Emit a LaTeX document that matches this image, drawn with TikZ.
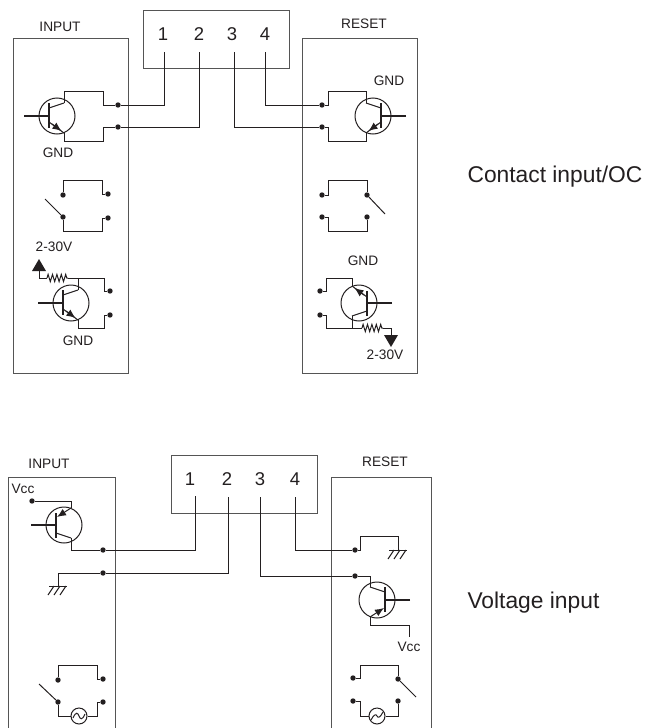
\documentclass[tikz,border=0pt]{standalone}
\usepackage{fontspec}
\setmainfont{Liberation Sans}
\usetikzlibrary{arrows.meta,decorations.pathmorphing}
\definecolor{boxline}{RGB}{85,85,85}
\definecolor{inkline}{RGB}{35,31,32}
\newcommand{\bjtbody}{
  \draw[wire] (0,0) circle (18);
  \draw[inkline,line width=2.2pt] (-33,0) -- (-8,0);
  \draw[inkline,line width=2pt] (-8,-13) -- (-8,12);
  \draw[wire] (-8,-8) -- (7,-13);
  \coordinate (-up) at (7,-13);
  \coordinate (-low) at (7,17);
}
\tikzset{
  panel/.style={draw=boxline,line width=1pt},
  wire/.style={draw=inkline,line width=1pt},
  pindot/.style={circle,fill=inkline,inner sep=0pt,minimum size=5.4pt},
  small/.style={text=inkline,font=\fontsize{13.7}{15}\selectfont},
  pinnum/.style={text=inkline,font=\fontsize{18.5}{20}\selectfont},
  caption/.style={text=inkline,font=\fontsize{22.8}{26}\selectfont,anchor=west},
  resist/.style={decoration={zigzag,segment length=4.4pt,amplitude=3.6pt}},
  bjtout/.pic={
    \bjtbody
    \draw[wire] (-8,6) -- (7,17);
    \draw[wire,-{Latex[length=9pt,width=7.5pt]}] (-5,8) -- (4.5,15);
  },
  bjtin/.pic={
    \bjtbody
    \draw[wire,-{Latex[length=9pt,width=7.5pt]}] (7,17) -- (-7,8);
  },
  earth/.pic={
    \draw[wire] (-9,0) -- (9,0);
    \draw[wire] (-4,0) -- (-10,9);
    \draw[wire] (2,0) -- (-4,9);
    \draw[wire] (8,0) -- (2,9);
  },
}
\begin{document}
\begin{tikzpicture}[x=1pt,y=-1pt]
\useasboundingbox (0,0) rectangle (650,728);

% Contact input: panels and terminal block
\draw[panel] (13,38) rectangle (128,373);
\draw[panel] (302,38) rectangle (417,373);
\draw[panel] (143,10) rectangle (289,68);
\node[small] (inlabel) at (60,27) {INPUT};
\node[small] (reslabel) at (364,24) {RESET};
\node[caption] (captop) at (464,177) {Contact input/OC};

\node[pinnum] (one) at (163,34) {1};
\node[pinnum] (two) at (199,34) {2};
\node[pinnum] (three) at (232,34) {3};
\node[pinnum] (four) at (265,34) {4};
\coordinate (pinone) at (164,52);
\coordinate (pintwo) at (199,52);
\coordinate (pinthree) at (234,52);
\coordinate (pinfour) at (265,52);

% Left transistor
\pic (qa) at (57,116) {bjtout};
\node[pindot] (da) at (118,105) {};
\node[pindot] (db) at (118,127) {};
\node[small] (gnda) at (58,153) {GND};
\draw[wire] (pinone) |- (da);
\draw[wire] (pintwo) |- (db);
\draw[wire] (da) -- (103,105) -- (103,91) -| (qa-up);
\draw[wire] (db) -- (103,127) -- (103,141) -| (qa-low);

% Left switch
\node[pindot] (dc) at (63,195) {};
\node[pindot] (dd) at (63,217) {};
\node[pindot] (de) at (108,194) {};
\node[pindot] (df) at (108,218) {};
\coordinate (arma) at (45,199);
\draw[wire] (dc) -- (63,180) -- (102,180) -- (102,194) -- (de);
\draw[wire] (dd) -- (63,231) -- (102,231) -- (102,218) -- (df);
\draw[wire] (arma) -- (dd);

% Left pull-up transistor
\node[small] (volta) at (54,247) {2-30V};
\coordinate (triga) at (39,271);
\fill[inkline] (39,259) -- (46,271) -- (32,271) -- cycle;
\pic (qb) at (71,303) {bjtout};
\node[pindot] (dg) at (110,291) {};
\node[pindot] (dh) at (110,315) {};
\node[small] (gndb) at (78,341) {GND};
\draw[wire] (triga) |- (47,278);
\draw[wire,resist,decorate] (47,278) -- (68,278);
\draw[wire] (68,278) -- (104,278) -- (104,291) -- (dg);
\draw[wire] (78,278) -- (qb-up);
\draw[wire] (dh) -- (104,315) -- (104,328) -| (qb-low);

% Right transistor
\pic[xscale=-1] (qc) at (373,116) {bjtout};
\node[pindot] (di) at (322,105) {};
\node[pindot] (dj) at (322,127) {};
\node[small] (gndc) at (389,81) {GND};
\draw[wire] (pinfour) |- (di);
\draw[wire] (pinthree) |- (dj);
\draw[wire] (di) -- (328,105) -- (328,91) -| (qc-up);
\draw[wire] (dj) -- (328,127) -- (328,141) -| (qc-low);

% Right switch
\node[pindot] (dk) at (322,195) {};
\node[pindot] (dl) at (322,217) {};
\node[pindot] (dm) at (367,195) {};
\node[pindot] (dn) at (367,217) {};
\coordinate (armb) at (385,214);
\draw[wire] (dk) -- (328,195) -- (328,180) -| (dm);
\draw[wire] (dl) -- (328,217) -- (328,231) -| (dn);
\draw[wire] (dm) -- (armb);

% Right pull-up transistor
\node[small] (gndd) at (363,261) {GND};
\pic[xscale=-1,yscale=-1] (qd) at (359,303) {bjtout};
\node[pindot] (dp) at (320,291) {};
\node[pindot] (dq) at (320,315) {};
\node[small] (voltb) at (385,355) {2-30V};
\coordinate (trigb) at (391,335);
\fill[inkline] (384,335) -- (398,335) -- (391,347) -- cycle;
\draw[wire] (dp) -- (326,291) -- (326,278) -| (qd-low);
\draw[wire] (dq) -- (326,315) -- (326,328) -| (qd-up);
\draw[wire] (352,328) -- (362,328);
\draw[wire,resist,decorate] (362,328) -- (383,328);
\draw[wire] (383,328) -| (trigb);

% Voltage input: panels and terminal block
\draw[panel] (8,728) |- (115,477) -- (115,728);
\draw[panel] (331,728) |- (431,477) -- (431,728);
\draw[panel] (171,455) rectangle (317,513);
\node[small] (inlabelb) at (49,464) {INPUT};
\node[small] (reslabelb) at (385,462) {RESET};
\node[caption] (capbot) at (464,603) {Voltage input};

\node[pinnum] (oneb) at (190,479) {1};
\node[pinnum] (twob) at (227,479) {2};
\node[pinnum] (threeb) at (260,479) {3};
\node[pinnum] (fourb) at (295,479) {4};
\coordinate (pinoneb) at (195,496);
\coordinate (pintwob) at (228,497);
\coordinate (pinthreeb) at (260,497);
\coordinate (pinfourb) at (295,497);

% Left side, Vcc transistor and ground
\node[small] (vcca) at (23,489) {Vcc};
\node[pindot] (ea) at (32,501) {};
\pic[yscale=-1] (qe) at (64,525) {bjtin};
\node[pindot] (eb) at (103,550) {};
\node[pindot] (ec) at (103,573) {};
\coordinate (earthl) at (58,586);
\pic at (earthl) {earth};
\draw[wire] (ea) -| (qe-low);
\draw[wire] (qe-up) |- (eb);
\draw[wire] (eb) -- (195,550) -- (pinoneb);
\draw[wire] (pintwob) |- (ec);
\draw[wire] (ec) -| (earthl);

% Left side, switch with source
\node[pindot] (ed) at (58,680) {};
\node[pindot] (ee) at (58,702) {};
\node[pindot] (ef) at (103,679) {};
\node[pindot] (eg) at (103,702) {};
\node[circle,draw=inkline,line width=1pt,inner sep=0pt,minimum size=16pt] (srca) at (79,716) {};
\coordinate (armc) at (39,684);
\draw[wire] (ed) -- (58,665) -- (97,665) -- (97,679) -- (ef);
\draw[wire] (armc) -- (ee);
\draw[wire] (ee) |- (srca);
\draw[wire] (srca) -- (97,716) -- (97,702) -- (eg);
\draw[wire] (73,718) .. controls (76,711) and (78,713) .. (79,716) .. controls (80,719) and (82,721) .. (85,714);

% Right side, ground and Vcc transistor
\node[pindot] (eh) at (355,550) {};
\node[pindot] (ei) at (355,576) {};
\coordinate (earthr) at (398,550);
\pic at (earthr) {earth};
\pic[xscale=-1] (qf) at (377,600) {bjtin};
\node[small] (vccb) at (409,647) {Vcc};
\coordinate (vcctop) at (409,637);
\draw[wire] (pinfourb) |- (eh);
\draw[wire] (pinthreeb) |- (ei);
\draw[wire] (eh) -- (360,550) -- (360,536) -| (earthr);
\draw[wire] (ei) -| (qf-up);
\draw[wire] (qf-low) |- (vcctop |- 0,625) -- (vcctop);

% Right side, switch with source
\node[pindot] (ej) at (353,678) {};
\node[pindot] (ek) at (353,701) {};
\node[pindot] (em) at (398,679) {};
\node[pindot] (en) at (398,701) {};
\node[circle,draw=inkline,line width=1pt,inner sep=0pt,minimum size=16pt] (srcb) at (377,716) {};
\coordinate (armd) at (416,697);
\draw[wire] (ej) -- (360,678) -- (360,665) -| (em);
\draw[wire] (em) -- (armd);
\draw[wire] (ek) -- (360,701) |- (srcb);
\draw[wire] (srcb) -| (en);
\draw[wire] (371,720) .. controls (374,714) and (376,714) .. (377,716) .. controls (378,718) and (380,718) .. (383,712);
\end{tikzpicture}
\end{document}
